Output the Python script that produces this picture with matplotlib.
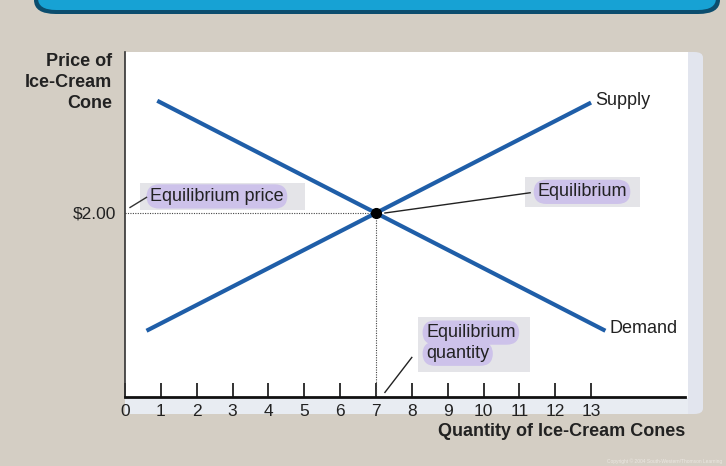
import matplotlib
matplotlib.use('Agg')
import matplotlib.pyplot as plt
from matplotlib.patches import Rectangle, FancyBboxPatch

plt.rcParams['font.family'] = ['Liberation Sans', 'DejaVu Sans']

# data
supply_q = [0.6, 13.0]
supply_p = [0.72, 3.2]
demand_q = [0.9, 13.4]
demand_p = [3.22, 0.72]
eq_q = 7
eq_p = 2.0
x_ticks = list(range(0, 14))
x_labels = [str(i) for i in x_ticks]

W, H = 726, 466
bg = '#d4cec4'
line_col = '#1f5ea8'
purple = '#cdc2ea'
boxgray = '#e4e4e8'
txt = '#222222'

def fx(px):
    return px / W

def fy(py):
    return 1 - py / H

fig = plt.figure(figsize=(W / 100, H / 100), dpi=100, facecolor=bg)

# top banner
fig.patches.append(FancyBboxPatch((fx(34), fy(14)), fx(686), 0.1,
                                  boxstyle='round,pad=0,rounding_size=0.03',
                                  transform=fig.transFigure, fc='#0b4d6e', ec='none', zorder=-2))
fig.patches.append(FancyBboxPatch((fx(38), fy(10)), fx(678), 0.1,
                                  boxstyle='round,pad=0,rounding_size=0.025',
                                  transform=fig.transFigure, fc='#17a2d4', ec='none', zorder=-2))

# white panel and side strip
fig.patches.append(FancyBboxPatch((fx(125), fy(414)), fx(578), (414 - 52) / H,
                                  boxstyle='round,pad=0,rounding_size=0.012',
                                  transform=fig.transFigure, fc='#e2e5ee', ec='none', zorder=-2))
fig.patches.append(Rectangle((fx(125), fy(414)), fx(563), (414 - 52) / H,
                             transform=fig.transFigure, fc='white', ec='none', zorder=-1))
fig.patches.append(Rectangle((fx(125), fy(414)), fx(563), 16 / H,
                             transform=fig.transFigure, fc='#e8ecf2', ec='none', zorder=-1))

ax = fig.add_axes([fx(125), fy(397), fx(685 - 125), (397 - 52) / H])
ax.set_facecolor('none')
ax.set_xlim(0, (685 - 125) / 35.85)
ax.set_ylim(0, (397 - 52) / 92)

for s in ['top', 'right']:
    ax.spines[s].set_visible(False)
ax.spines['left'].set_color('#333333')
ax.spines['left'].set_linewidth(1.2)
ax.spines['bottom'].set_color('#111111')
ax.spines['bottom'].set_linewidth(2)

ax.set_xticks(x_ticks)
ax.set_xticklabels(x_labels, fontsize=12.5, color=txt)
ax.tick_params(axis='x', direction='in', length=10, width=1.3, color=txt, pad=5)
ax.set_yticks([eq_p])
ax.set_yticklabels(['$2.00'], fontsize=12.5, color=txt)
ax.tick_params(axis='y', length=0, pad=6)

# curves
ax.plot(supply_q, supply_p, color=line_col, lw=3, solid_capstyle='butt', zorder=3)
ax.plot(demand_q, demand_p, color=line_col, lw=3, solid_capstyle='butt', zorder=3)
ax.text(supply_q[1] + 0.12, supply_p[1] + 0.02, 'Supply', fontsize=13, color=txt,
        va='center', ha='left')
ax.text(demand_q[1] + 0.12, demand_p[1] + 0.02, 'Demand', fontsize=13, color=txt,
        va='center', ha='left')

# guide lines
ax.plot([0, eq_q], [eq_p, eq_p], color='#444444', lw=0.8, ls=(0, (1, 1.2)), zorder=2)
ax.plot([eq_q, eq_q], [0, eq_p], color='#444444', lw=0.8, ls=(0, (1, 1.2)), zorder=2)
ax.plot([eq_q], [eq_p], 'o', color='black', ms=7, zorder=5)

pill = dict(boxstyle='round,pad=0.2,rounding_size=0.7', fc=purple, ec='none')

# annotation boxes
ax.add_patch(Rectangle((0.42, 2.03), 4.6, 0.3, fc=boxgray, ec='none', zorder=1))
ax.text(0.70, 2.18, 'Equilibrium price', fontsize=13, color=txt, va='center', ha='left',
        zorder=4, bbox=pill)
ax.plot([0.14, 0.6], [2.06, 2.17], color='#333333', lw=1, zorder=4)

ax.add_patch(Rectangle((11.16, 2.07), 3.2, 0.32, fc=boxgray, ec='none', zorder=1))
ax.text(11.5, 2.23, 'Equilibrium', fontsize=13, color=txt, va='center', ha='left',
        zorder=4, bbox=pill)
ax.plot([eq_q + 0.25, 11.3], [eq_p, 2.22], color=txt, lw=1, zorder=4)

ax.add_patch(Rectangle((8.17, 0.27), 3.13, 0.6, fc=boxgray, ec='none', zorder=1))
ax.text(8.4, 0.70, 'Equilibrium', fontsize=13, color=txt, va='center', ha='left',
        zorder=4, bbox=pill)
ax.text(8.4, 0.47, 'quantity', fontsize=13, color=txt, va='center', ha='left',
        zorder=4, bbox=pill)
ax.plot([7.25, 8.0], [0.05, 0.43], color=txt, lw=1, zorder=4)

# axis titles
fig.text(fx(112), fy(53), 'Price of\nIce-Cream\nCone', fontsize=13, fontweight='bold',
         color=txt, ha='right', va='top', linespacing=1.3)
fig.text(fx(685), fy(431), 'Quantity of Ice-Cream Cones', fontsize=13, fontweight='bold',
         color=txt, ha='right', va='center')
fig.text(fx(722), fy(461), 'Copyright \u00a9 2004 South-Western/Thomson Learning', fontsize=3.5,
         color='#ece8e2', ha='right', va='center')

fig.savefig('out.png', dpi=100, facecolor=bg)
